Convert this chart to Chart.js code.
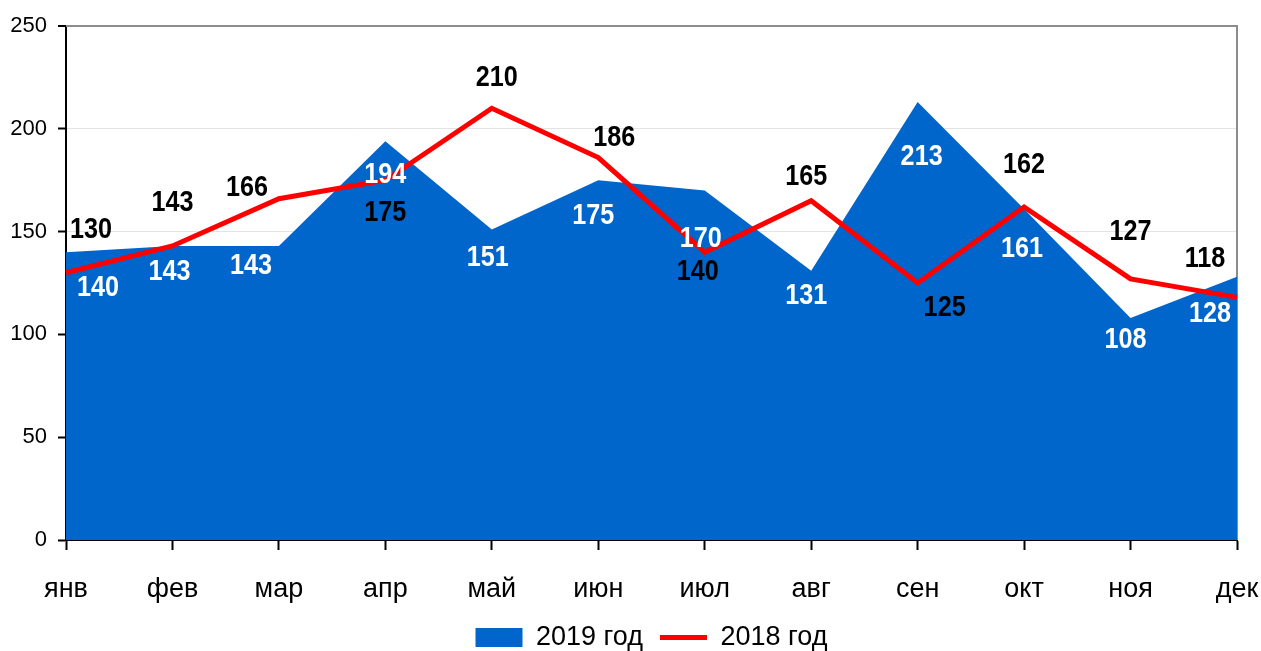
<!DOCTYPE html>
<html>
<head>
<meta charset="utf-8">
<script src="https://cdn.jsdelivr.net/npm/chart.js@4/dist/chart.umd.min.js"></script>
<style>
  html, body { margin: 0; padding: 0; background: #fff; }
  #wrap { width: 1261px; height: 651px; }
</style>
</head>
<body>
<div id="wrap"><canvas id="chart"></canvas></div>
<script>
const months = ['янв', 'фев', 'мар', 'апр', 'май', 'июн', 'июл', 'авг', 'сен', 'окт', 'ноя', 'дек'];
const values2019 = [140, 143, 143, 194, 151, 175, 170, 131, 213, 161, 108, 128];
const values2018 = [130, 143, 166, 175, 210, 186, 140, 165, 125, 162, 127, 118];
const yTicks = [0, 50, 100, 150, 200, 250];

// where each value label sits relative to its point (px)
const offsets2019 = [[32, 36], [-3, 26], [-28, 20], [0, 34], [-4, 28], [-5, 36],
                     [-4, 48], [-5, 25], [4, 55], [-2, 40], [-5, 22], [-27, 37]];
const offsets2018 = [[25, -43], [0, -43], [-32, -11], [0, 33], [5, -31], [16, -20],
                     [-7, 20], [-5, -24], [27, 25], [0, -42], [0, -47], [-32, -39]];

const BLUE = '#0066cc';
const RED = '#ff0000';
const labelFont = "bold 30px 'Liberation Sans', Arial, sans-serif";

// value labels drawn next to the points (squeezed a bit, like a narrow face)
const valueLabels = {
    id: 'valueLabels',
    afterDatasetsDraw(chart) {
        const ctx = chart.ctx;
        chart.data.datasets.forEach((ds, i) => {
            const meta = chart.getDatasetMeta(i);
            const is2019 = ds.label === '2019 год';
            const offs = is2019 ? offsets2019 : offsets2018;
            meta.data.forEach((pt, j) => {
                ctx.save();
                ctx.font = labelFont;
                ctx.textAlign = 'center';
                ctx.textBaseline = 'middle';
                ctx.fillStyle = is2019 ? '#ffffff' : '#000000';
                ctx.translate(pt.x + offs[j][0], pt.y + offs[j][1]);
                ctx.scale(0.84, 1);
                ctx.fillText(ds.data[j], 0, 0);
                ctx.restore();
            });
        });
    }
};

// grey frame on the top and right of the plot
const plotFrame = {
    id: 'plotFrame',
    beforeDatasetsDraw(chart) {
        const {ctx, chartArea: a} = chart;
        ctx.save();
        ctx.strokeStyle = '#8c8c8c';
        ctx.lineWidth = 2;
        ctx.beginPath();
        ctx.moveTo(a.left, a.top);
        ctx.lineTo(a.right, a.top);
        ctx.lineTo(a.right, a.bottom);
        ctx.stroke();
        ctx.restore();
    }
};

new Chart(document.getElementById('chart'), {
    type: 'line',
    data: {
        labels: months,
        datasets: [
            {
                label: '2019 год',
                data: values2019,
                fill: 'origin',
                backgroundColor: BLUE,
                borderWidth: 0,
                pointRadius: 0,
                tension: 0,
                order: 2
            },
            {
                label: '2018 год',
                data: values2018,
                fill: false,
                borderColor: RED,
                borderWidth: 5,
                pointRadius: 0,
                tension: 0,
                order: 1
            }
        ]
    },
    options: {
        responsive: true,
        maintainAspectRatio: false,
        animation: false,
        layout: { padding: { top: 26, right: 24, left: 0, bottom: -10 } },
        scales: {
            x: {
                offset: false,
                grid: { drawOnChartArea: false, tickLength: 10, tickColor: '#000', tickWidth: 2 },
                border: { color: '#000', width: 2 },
                ticks: {
                    color: '#000',
                    padding: 23,
                    maxRotation: 0,
                    font: { family: "'Liberation Sans', Arial, sans-serif", size: 27 }
                },
                afterFit(scale) {
                    scale.height = 67;
                    scale.paddingLeft = 0;
                    scale.paddingRight = 0;
                }
            },
            y: {
                min: 0,
                max: 250,
                afterBuildTicks(scale) { scale.ticks = yTicks.map(v => ({ value: v })); },
                grid: {
                    color: ctx => ctx.tick && ctx.tick.value === 250 ? '#8c8c8c' : '#e3e3e3',
                    lineWidth: ctx => ctx.tick && ctx.tick.value === 250 ? 2 : 1,
                    tickColor: '#000',
                    tickLength: 8,
                    tickWidth: 2
                },
                border: { color: '#000', width: 2 },
                ticks: {
                    color: '#000',
                    padding: 11,
                    font: { family: "'Liberation Sans', Arial, sans-serif", size: 22 }
                },
                afterFit(scale) { scale.width = 66; }
            }
        },
        plugins: {
            legend: {
                position: 'bottom',
                fullSize: false,
                labels: {
                    usePointStyle: true,
                    pointStyleWidth: 47,
                    boxHeight: 19,
                    padding: 17,
                    color: '#000',
                    font: { family: "'Liberation Sans', Arial, sans-serif", size: 27 },
                    generateLabels(chart) {
                        return [
                            { text: '2019 год', pointStyle: 'rect', fillStyle: BLUE, strokeStyle: BLUE, lineWidth: 0, datasetIndex: 0 },
                            { text: '2018 год', pointStyle: 'line', fillStyle: RED, strokeStyle: RED, lineWidth: 5, datasetIndex: 1 }
                        ];
                    }
                }
            },
            tooltip: { enabled: false }
        }
    },
    plugins: [plotFrame, valueLabels]
});
</script>
</body>
</html>
